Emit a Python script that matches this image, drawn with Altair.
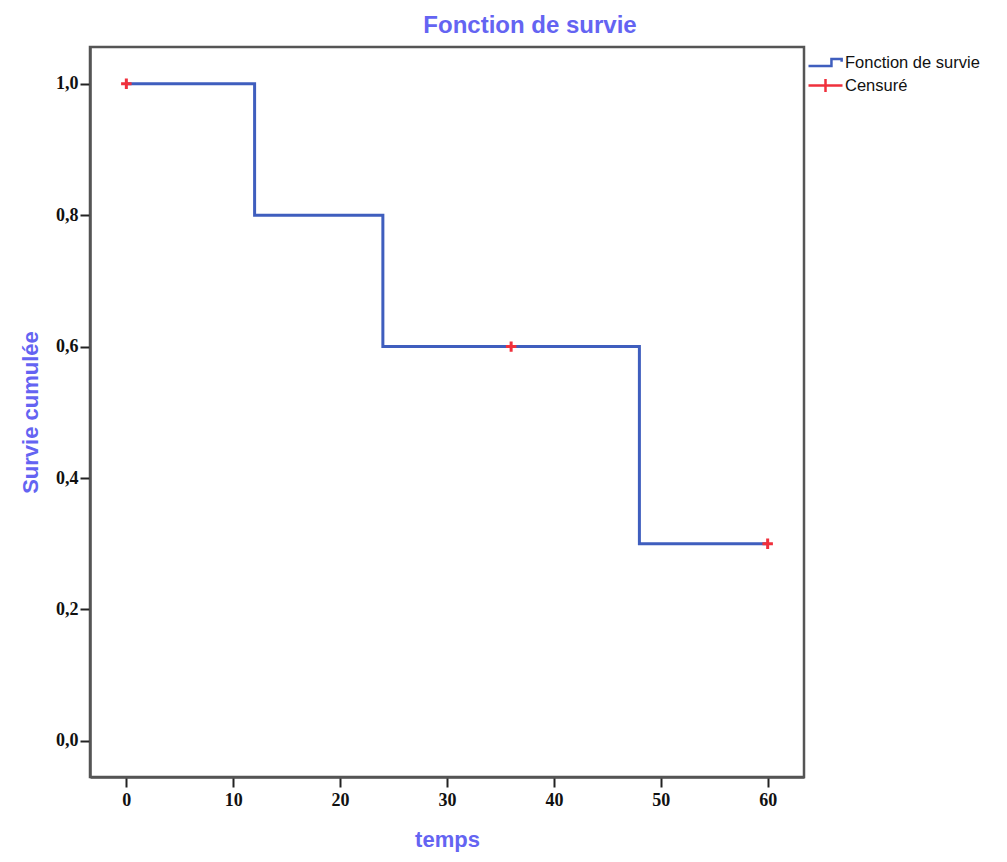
import altair as alt
import pandas as pd

# Kaplan-Meier survival curve (step points)
temps = [0, 12, 24, 48, 60]
survie = [1.0, 0.8, 0.6, 0.3, 0.3]
# censored observations
temps_cens = [0, 36, 60]
survie_cens = [1.0, 0.6, 0.3]

x_ticks = [0, 10, 20, 30, 40, 50, 60]
y_ticks = [0.0, 0.2, 0.4, 0.6, 0.8, 1.0]

df_line = pd.DataFrame({"temps": temps, "survie": survie, "serie": ["Fonction de survie"] * len(temps)})
df_cens = pd.DataFrame({"temps": temps_cens, "survie": survie_cens,
                        "serie": ["Censuré"] * len(temps_cens), "marque": ["c"] * len(temps_cens)})

BLUE = "#3F5EBE"
RED = "#F0303C"
TITLE_BLUE = "#6464F2"
AXIS_GRAY = "#555555"

STEP_PATH = "M-1,0.2H0.35V-0.2H0.95V-0.05"
PLUS_WIDE = "M-1,0H1M0,-0.38V0.38"
PLUS = "M-1,0H1M0,-1V1"

x_scale = alt.Scale(domain=[-3.4, 63.4], nice=False, zero=False)
y_scale = alt.Scale(domain=[-0.055, 1.056], nice=False, zero=False)

x_axis = alt.Axis(values=x_ticks, format="d", grid=False, tickSize=10, tickWidth=2, tickColor="#222",
                  labelFont="Liberation Serif", labelFontWeight="bold", labelFontSize=18, labelColor="#111",
                  labelPadding=4, domainColor=AXIS_GRAY, domainWidth=2.5,
                  title="temps", titleFont="Liberation Sans", titleFontWeight="bold", titleFontSize=22,
                  titleColor=TITLE_BLUE, titleX=357, titleY=62, titleBaseline="middle", titleAlign="center")
y_axis = alt.Axis(values=y_ticks, grid=False, tickSize=10, tickWidth=2, tickColor="#222",
                  labelExpr="replace(format(datum.value, '.1f'), '.', ',')",
                  labelFont="Liberation Serif", labelFontWeight="bold", labelFontSize=18, labelColor="#111",
                  labelPadding=2, domainColor=AXIS_GRAY, domainWidth=2.5,
                  title="Survie cumulée", titleFont="Liberation Sans", titleFontWeight="bold", titleFontSize=22,
                  titleColor=TITLE_BLUE, titleX=-60, titleY=365, titleAngle=270,
                  titleBaseline="middle", titleAlign="center")

line = alt.Chart(df_line).mark_line(interpolate="step-after", strokeWidth=3).encode(
    x=alt.X("temps:Q", scale=x_scale, axis=x_axis),
    y=alt.Y("survie:Q", scale=y_scale, axis=y_axis),
    color=alt.Color("serie:N", scale=alt.Scale(domain=["Fonction de survie"], range=[BLUE]),
                    legend=alt.Legend(title=None, orient="none", legendX=717, legendY=-3,
                                      symbolType=STEP_PATH, symbolSize=1156, symbolStrokeWidth=2.5,
                                      labelFont="Liberation Sans", labelFontSize=16.5, labelColor="#111",
                                      labelOffset=1, padding=0, labelLimit=300)),
)

cens = alt.Chart(df_cens).mark_point(filled=False, strokeWidth=3, size=110, opacity=1).encode(
    x="temps:Q",
    y="survie:Q",
    shape=alt.Shape("marque:N", scale=alt.Scale(domain=["c"], range=[PLUS]), legend=None),
    color=alt.Color("serie:N", scale=alt.Scale(domain=["Censuré"], range=[RED]),
                    legend=alt.Legend(title=None, orient="none", legendX=717, legendY=20,
                                      symbolType=PLUS_WIDE, symbolSize=1156, symbolStrokeWidth=2.5,
                                      labelFont="Liberation Sans", labelFontSize=16.5, labelColor="#111",
                                      labelOffset=1, padding=0, labelLimit=300)),
)

chart = alt.layer(line, cens).resolve_scale(color="independent", shape="independent").properties(
    width=714, height=730,
    autosize="none",
    padding={"left": 82, "top": 39, "right": 194, "bottom": 76},
    background="white",
    title=alt.TitleParams("Fonction de survie", font="Liberation Sans", fontWeight="bold", fontSize=24,
                          color=TITLE_BLUE, anchor="middle", dx=83, offset=6),
).configure_view(stroke=AXIS_GRAY, strokeWidth=2.5)

chart.save("out.html", embed_options={"renderer": "svg", "actions": False})
